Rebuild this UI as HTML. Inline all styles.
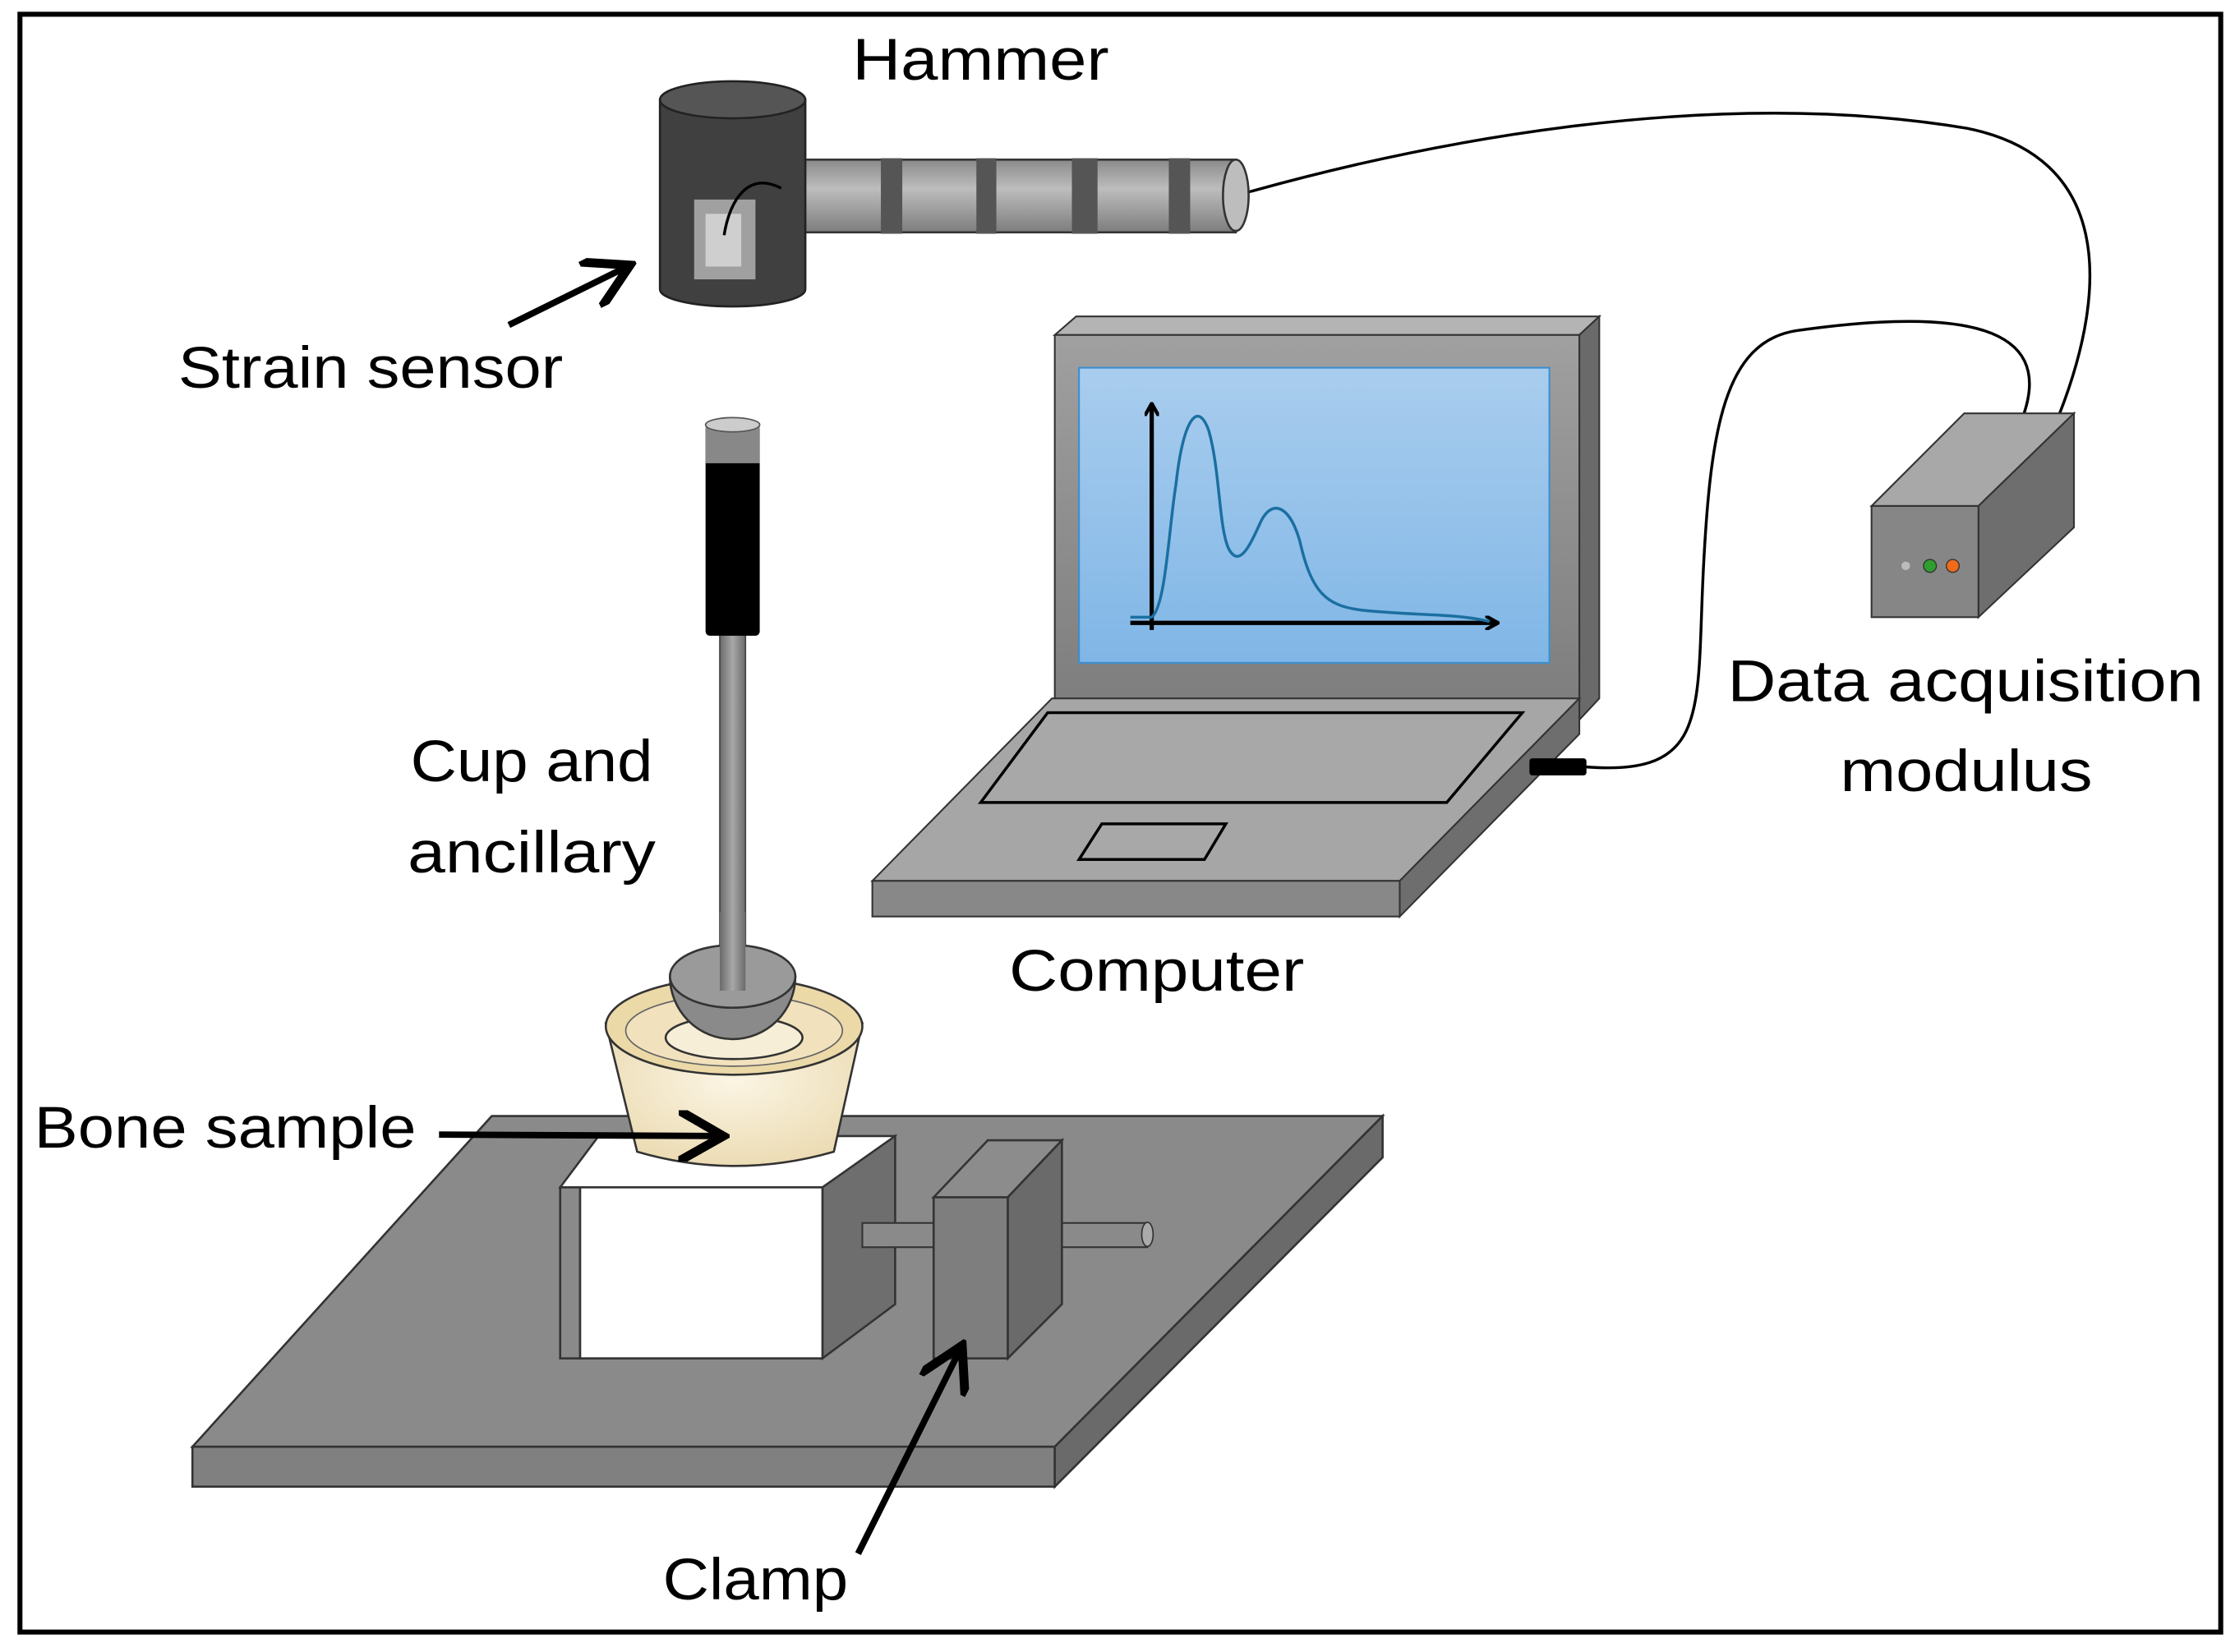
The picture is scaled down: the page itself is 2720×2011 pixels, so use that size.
<!DOCTYPE html>
<html><head><meta charset="utf-8"><style>
html,body{margin:0;padding:0;background:#fff;}
svg{display:block;}
text{font-family:"Liberation Sans",sans-serif;font-size:41px;fill:#000;}
</style></head><body>
<svg width="2720" height="2011" viewBox="0 0 1568 1159" preserveAspectRatio="none" xmlns="http://www.w3.org/2000/svg">
<defs>
<linearGradient id="scr" x1="0" y1="0" x2="0" y2="1"><stop offset="0" stop-color="#a9cdee"/><stop offset="1" stop-color="#80b6e6"/></linearGradient>
<linearGradient id="frame" x1="0" y1="0" x2="0" y2="1"><stop offset="0" stop-color="#a0a0a0"/><stop offset="1" stop-color="#7e7e7e"/></linearGradient>
<linearGradient id="rod" x1="0" y1="0" x2="1" y2="0"><stop offset="0" stop-color="#6a6a6a"/><stop offset="0.5" stop-color="#a8a8a8"/><stop offset="1" stop-color="#6a6a6a"/></linearGradient>
<linearGradient id="handle" x1="0" y1="0" x2="0" y2="1"><stop offset="0" stop-color="#8a8a8a"/><stop offset="0.4" stop-color="#bdbdbd"/><stop offset="1" stop-color="#7d7d7d"/></linearGradient>
<radialGradient id="bone" cx="0.5" cy="0.4" r="0.7"><stop offset="0" stop-color="#fbf5e4"/><stop offset="1" stop-color="#ead8ad"/></radialGradient>
<marker id="ah" markerWidth="8" markerHeight="8" refX="6" refY="4" orient="auto" markerUnits="strokeWidth"><path d="M0,0 L7,4 L0,8" fill="none" stroke="#000" stroke-width="1.4"/></marker>
<marker id="ah2" markerWidth="10" markerHeight="10" refX="8" refY="5" orient="auto" markerUnits="userSpaceOnUse"><path d="M0,0 L9,5 L0,10" fill="none" stroke="#000" stroke-width="2.5"/></marker>
</defs>
<rect x="14" y="10" width="1544" height="1135" fill="#fff" stroke="#000" stroke-width="3.5"/>

<!-- cables -->
<path d="M875,135 C1000,100 1200,60 1380,90 C1480,110 1480,200 1445,290" fill="none" stroke="#000" stroke-width="2"/>
<path d="M1112,538 C1200,545 1190,500 1195,400 C1200,300 1210,240 1260,232 C1380,215 1440,230 1420,290" fill="none" stroke="#000" stroke-width="2"/>

<!-- hammer handle -->
<rect x="545" y="112" width="322" height="51" fill="url(#handle)" stroke="#333" stroke-width="1.5"/>
<rect x="618" y="111" width="15" height="53" fill="#555"/>
<rect x="685" y="111" width="14" height="53" fill="#555"/>
<rect x="752" y="111" width="18" height="53" fill="#555"/>
<rect x="820" y="111" width="15" height="53" fill="#555"/>
<ellipse cx="867" cy="137" rx="9" ry="25" fill="#bdbdbd" stroke="#333" stroke-width="1.5"/>
<!-- hammer head -->
<path d="M463,70 L463,203 A51,12 0 0 0 565,203 L565,70 Z" fill="#404040" stroke="#222" stroke-width="1.5"/>
<ellipse cx="514" cy="70" rx="51" ry="13" fill="#555" stroke="#222" stroke-width="1.5"/>
<rect x="487" y="140" width="43" height="56" fill="#a0a0a0"/>
<rect x="495" y="150" width="25" height="37" fill="#cfcfcf"/>
<path d="M508,165 C512,140 525,120 548,132" fill="none" stroke="#000" stroke-width="2"/>
<text x="598" y="56" textLength="180" lengthAdjust="spacingAndGlyphs">Hammer</text>
<text x="125" y="272" textLength="270" lengthAdjust="spacingAndGlyphs">Strain sensor</text>
<line x1="357" y1="228" x2="438" y2="188" stroke="#000" stroke-width="4.5" marker-end="url(#ah)"/>

<!-- rod -->
<rect x="505" y="440" width="18" height="255" fill="url(#rod)" stroke="#444" stroke-width="1"/>
<rect x="495" y="298" width="38" height="148" rx="3" fill="#000"/>
<rect x="495" y="298" width="38" height="27" fill="#888"/>
<ellipse cx="514" cy="298" rx="19" ry="5" fill="#ccc" stroke="#555"/>
<text x="288" y="548" textLength="170" lengthAdjust="spacingAndGlyphs">Cup and</text>
<text x="286" y="612" textLength="174" lengthAdjust="spacingAndGlyphs">ancillary</text>

<!-- platform -->
<polygon points="135,1015 345,783 970,783 740,1015" fill="#8a8a8a" stroke="#333" stroke-width="1.5"/>
<rect x="135" y="1015" width="605" height="28" fill="#808080" stroke="#333" stroke-width="1.5"/>
<polygon points="740,1015 970,783 970,812 740,1043" fill="#6a6a6a" stroke="#333" stroke-width="1.5"/>

<!-- holder -->
<polygon points="393,833 420,797 628,797 600,833" fill="#fff" stroke="#333" stroke-width="1.5"/>
<polygon points="577,833 628,797 628,915 577,953" fill="#6e6e6e" stroke="#333" stroke-width="1.5"/>
<rect x="393" y="833" width="14" height="120" fill="#8a8a8a" stroke="#333" stroke-width="1.5"/>
<rect x="407" y="833" width="170" height="120" fill="#fff" stroke="#333" stroke-width="1.5"/>

<!-- bone -->
<path d="M425,718 L447,808 Q515,828 585,808 L605,718 Z" fill="url(#bone)" stroke="#333" stroke-width="1.5"/>
<ellipse cx="515" cy="720" rx="90" ry="34" fill="#ecd9a8" stroke="#333" stroke-width="1.5"/>
<ellipse cx="515" cy="723" rx="76" ry="25" fill="#f1e2bd" stroke="#666" stroke-width="1"/>
<ellipse cx="515" cy="728" rx="48" ry="15" fill="#f6eed7" stroke="#333" stroke-width="1.5"/>
<!-- cup -->
<path d="M470,685 A44,44 0 0 0 558,685 Z" fill="#8a8a8a" stroke="#333" stroke-width="1.5"/>
<ellipse cx="514" cy="685" rx="44" ry="22" fill="#9a9a9a" stroke="#333" stroke-width="1.5"/>
<rect x="505" y="640" width="18" height="55" fill="url(#rod)"/>
<text x="24" y="805" textLength="268" lengthAdjust="spacingAndGlyphs">Bone sample</text>
<line x1="308" y1="796" x2="503" y2="797" stroke="#000" stroke-width="4.5" marker-end="url(#ah)"/>

<!-- clamp -->
<rect x="605" y="858" width="55" height="17" fill="#8a8a8a" stroke="#333" stroke-width="1.2"/>
<rect x="740" y="858" width="65" height="17" fill="#8a8a8a" stroke="#333" stroke-width="1.2"/>
<ellipse cx="805" cy="866" rx="4" ry="8.5" fill="#aaa" stroke="#333"/>
<polygon points="655,840 693,800 745,800 707,840" fill="#8c8c8c" stroke="#333" stroke-width="1.5"/>
<polygon points="707,840 745,800 745,915 707,953" fill="#6a6a6a" stroke="#333" stroke-width="1.5"/>
<rect x="655" y="840" width="52" height="113" fill="#7e7e7e" stroke="#333" stroke-width="1.5"/>
<text x="465" y="1122" textLength="130" lengthAdjust="spacingAndGlyphs">Clamp</text>
<line x1="602" y1="1090" x2="673" y2="948" stroke="#000" stroke-width="4.5" marker-end="url(#ah)"/>

<!-- laptop screen -->
<polygon points="740,235 755,222 1122,222 1108,235" fill="#b4b4b4" stroke="#333" stroke-width="1.2"/>
<polygon points="1108,235 1122,222 1122,490 1108,505" fill="#6a6a6a" stroke="#333" stroke-width="1.2"/>
<rect x="740" y="235" width="368" height="257" fill="url(#frame)" stroke="#333" stroke-width="1.2"/>
<rect x="757" y="258" width="330" height="207" fill="url(#scr)" stroke="#3a8fd0" stroke-width="1.2"/>
<line x1="808" y1="442" x2="808" y2="284" stroke="#000" stroke-width="3" marker-end="url(#ah2)"/>
<line x1="793" y1="437" x2="1050" y2="437" stroke="#000" stroke-width="3" marker-end="url(#ah2)"/>
<path d="M793,433 L808,433 C818,425 820,370 825,340 C830,295 840,280 848,302 C856,330 855,370 862,385 C870,400 878,380 885,365 C893,350 905,355 912,380 C920,415 930,425 955,428 C990,432 1020,430 1045,436" fill="none" stroke="#1a6fa0" stroke-width="2"/>
<!-- laptop base -->
<polygon points="612,618 738,490 1108,490 982,618" fill="#a6a6a6" stroke="#333" stroke-width="1.2"/>
<polygon points="982,618 1108,490 1108,515 982,643" fill="#6e6e6e" stroke="#333" stroke-width="1.2"/>
<rect x="612" y="618" width="370" height="25" fill="#888" stroke="#333" stroke-width="1.2"/>
<polygon points="688,563 735,500 1068,500 1015,563" fill="#a8a8a8" stroke="#000" stroke-width="2"/>
<polygon points="757,603 773,578 860,578 845,603" fill="#a8a8a8" stroke="#000" stroke-width="2"/>
<rect x="1073" y="532" width="40" height="12" rx="2" fill="#000"/>
<text x="708" y="695" textLength="207" lengthAdjust="spacingAndGlyphs">Computer</text>

<!-- DAQ -->
<polygon points="1313,355 1378,290 1455,290 1388,355" fill="#a8a8a8" stroke="#333" stroke-width="1.2"/>
<polygon points="1388,355 1455,290 1455,370 1388,433" fill="#6e6e6e" stroke="#333" stroke-width="1.2"/>
<rect x="1313" y="355" width="75" height="78" fill="#868686" stroke="#333" stroke-width="1.2"/>
<circle cx="1337" cy="397" r="3" fill="#bbb"/>
<circle cx="1354" cy="397" r="4.5" fill="#2e9e2e" stroke="#333" stroke-width="0.8"/>
<circle cx="1370" cy="397" r="4.5" fill="#f06a1a" stroke="#333" stroke-width="0.8"/>
<text x="1212" y="492" textLength="334" lengthAdjust="spacingAndGlyphs">Data acquisition</text>
<text x="1291" y="555" textLength="177" lengthAdjust="spacingAndGlyphs">modulus</text>
</svg>
</body></html>
